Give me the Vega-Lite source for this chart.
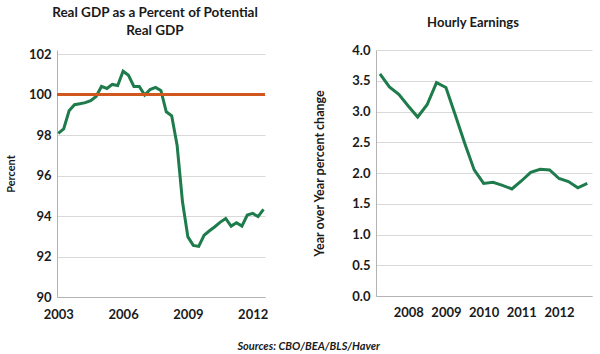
{
  "$schema": "https://vega.github.io/schema/vega-lite/v6.json",
  "autosize": {"type": "pad"},
  "padding": {"left": 5, "top": 5, "right": 0, "bottom": 0},
  "background": "white",
  "spacing": 111,
  "bounds": "flush",
  "config": {
    "font": "Lato",
    "view": {"stroke": null},
    "axis": {
      "labelFont": "Lato", "labelFontWeight": "bold", "labelFontSize": 13, "labelColor": "#1a1a1a",
      "titleFont": "Lato", "titleFontWeight": "bold", "titleFontSize": 11.5, "titleColor": "#1a1a1a",
      "gridColor": "#d9d9d9", "gridWidth": 1, "domainColor": "#b3b3b3", "ticks": false, "labelPadding": 6
    },
    "title": {"font": "Lato", "fontWeight": "bold", "fontSize": 13, "color": "#1a1a1a", "frame": "group"}
  },
  "title": {
    "text": "Sources: CBO/BEA/BLS/Haver",
    "orient": "bottom", "anchor": "start", "frame": "bounds",
    "font": "Lato", "fontSize": 11, "fontStyle": "italic", "fontWeight": "bold",
    "dx": 232, "offset": 20
  },
  "datasets": {
    "gdp": [
      {"t": 2003.00, "v": 98.08}, {"t": 2003.25, "v": 98.3}, {"t": 2003.50, "v": 99.2}, {"t": 2003.75, "v": 99.5},
      {"t": 2004.00, "v": 99.55}, {"t": 2004.25, "v": 99.6}, {"t": 2004.50, "v": 99.7}, {"t": 2004.75, "v": 99.9},
      {"t": 2005.00, "v": 100.4}, {"t": 2005.25, "v": 100.3}, {"t": 2005.50, "v": 100.5}, {"t": 2005.75, "v": 100.45},
      {"t": 2006.00, "v": 101.15}, {"t": 2006.25, "v": 100.95}, {"t": 2006.50, "v": 100.4}, {"t": 2006.75, "v": 100.4},
      {"t": 2007.00, "v": 99.97}, {"t": 2007.25, "v": 100.25}, {"t": 2007.50, "v": 100.35}, {"t": 2007.75, "v": 100.2},
      {"t": 2008.00, "v": 99.15}, {"t": 2008.25, "v": 98.95}, {"t": 2008.50, "v": 97.5}, {"t": 2008.75, "v": 94.7},
      {"t": 2009.00, "v": 92.97}, {"t": 2009.25, "v": 92.55}, {"t": 2009.50, "v": 92.5}, {"t": 2009.75, "v": 93.05},
      {"t": 2010.00, "v": 93.27}, {"t": 2010.25, "v": 93.47}, {"t": 2010.50, "v": 93.7}, {"t": 2010.75, "v": 93.88},
      {"t": 2011.00, "v": 93.5}, {"t": 2011.25, "v": 93.67}, {"t": 2011.50, "v": 93.5}, {"t": 2011.75, "v": 94.05},
      {"t": 2012.00, "v": 94.13}, {"t": 2012.25, "v": 93.97}, {"t": 2012.50, "v": 94.33}
    ],
    "potential": [{"v": 100}],
    "earn": [
      {"t": 2007.25, "v": 3.61}, {"t": 2007.50, "v": 3.40}, {"t": 2007.75, "v": 3.28},
      {"t": 2008.00, "v": 3.09}, {"t": 2008.25, "v": 2.91}, {"t": 2008.50, "v": 3.11}, {"t": 2008.75, "v": 3.47},
      {"t": 2009.00, "v": 3.39}, {"t": 2009.25, "v": 2.94}, {"t": 2009.50, "v": 2.48}, {"t": 2009.75, "v": 2.05},
      {"t": 2010.00, "v": 1.83}, {"t": 2010.25, "v": 1.85}, {"t": 2010.50, "v": 1.80}, {"t": 2010.75, "v": 1.74},
      {"t": 2011.00, "v": 1.87}, {"t": 2011.25, "v": 2.01}, {"t": 2011.50, "v": 2.06}, {"t": 2011.75, "v": 2.05},
      {"t": 2012.00, "v": 1.91}, {"t": 2012.25, "v": 1.86}, {"t": 2012.50, "v": 1.76}, {"t": 2012.75, "v": 1.83}
    ]
  },
  "hconcat": [
    {
      "width": 208,
      "height": 247,
      "title": {"text": ["Real GDP as a Percent of Potential", "Real GDP"], "anchor": "middle", "dx": -6, "offset": 11, "lineHeight": 18, "fontSize": 13.5},
      "layer": [
        {
          "data": {"name": "gdp"},
          "mark": {"type": "line", "color": "#1e7b4b", "strokeWidth": 3, "clip": true},
          "encoding": {
            "x": {"field": "t", "type": "quantitative", "scale": {"domain": [2002.94, 2012.57], "nice": false, "zero": false},
              "axis": {"values": [2003, 2006, 2009, 2012], "format": "d", "title": null, "grid": false, "labelPadding": 11}},
            "y": {"field": "v", "type": "quantitative", "scale": {"domain": [90, 102.2], "nice": false, "zero": false},
              "axis": {"values": [90, 92, 94, 96, 98, 100, 102], "title": "Percent", "titleFontSize": 11, "titlePadding": 12}}
          }
        },
        {
          "data": {"name": "potential"},
          "mark": {"type": "rule", "color": "#d0581f", "strokeWidth": 3},
          "encoding": {"y": {"field": "v", "type": "quantitative"}}
        }
      ]
    },
    {
      "width": 216,
      "height": 246,
      "title": {"text": "Hourly Earnings", "anchor": "middle", "dx": -11, "offset": 14},
      "data": {"name": "earn"},
      "mark": {"type": "line", "color": "#1e7b4b", "strokeWidth": 3},
      "encoding": {
        "x": {"field": "t", "type": "quantitative", "scale": {"domain": [2007.145, 2012.875], "nice": false, "zero": false},
          "axis": {"values": [2008, 2009, 2010, 2011, 2012], "format": "d", "title": null, "grid": false, "labelPadding": 10}},
        "y": {"field": "v", "type": "quantitative", "scale": {"domain": [0, 4], "nice": false},
          "axis": {"values": [0, 0.5, 1, 1.5, 2, 2.5, 3, 3.5, 4], "format": ".1f", "title": "Year over Year percent change", "titleFontSize": 12.5, "titlePadding": 25}}
      }
    }
  ]
}
